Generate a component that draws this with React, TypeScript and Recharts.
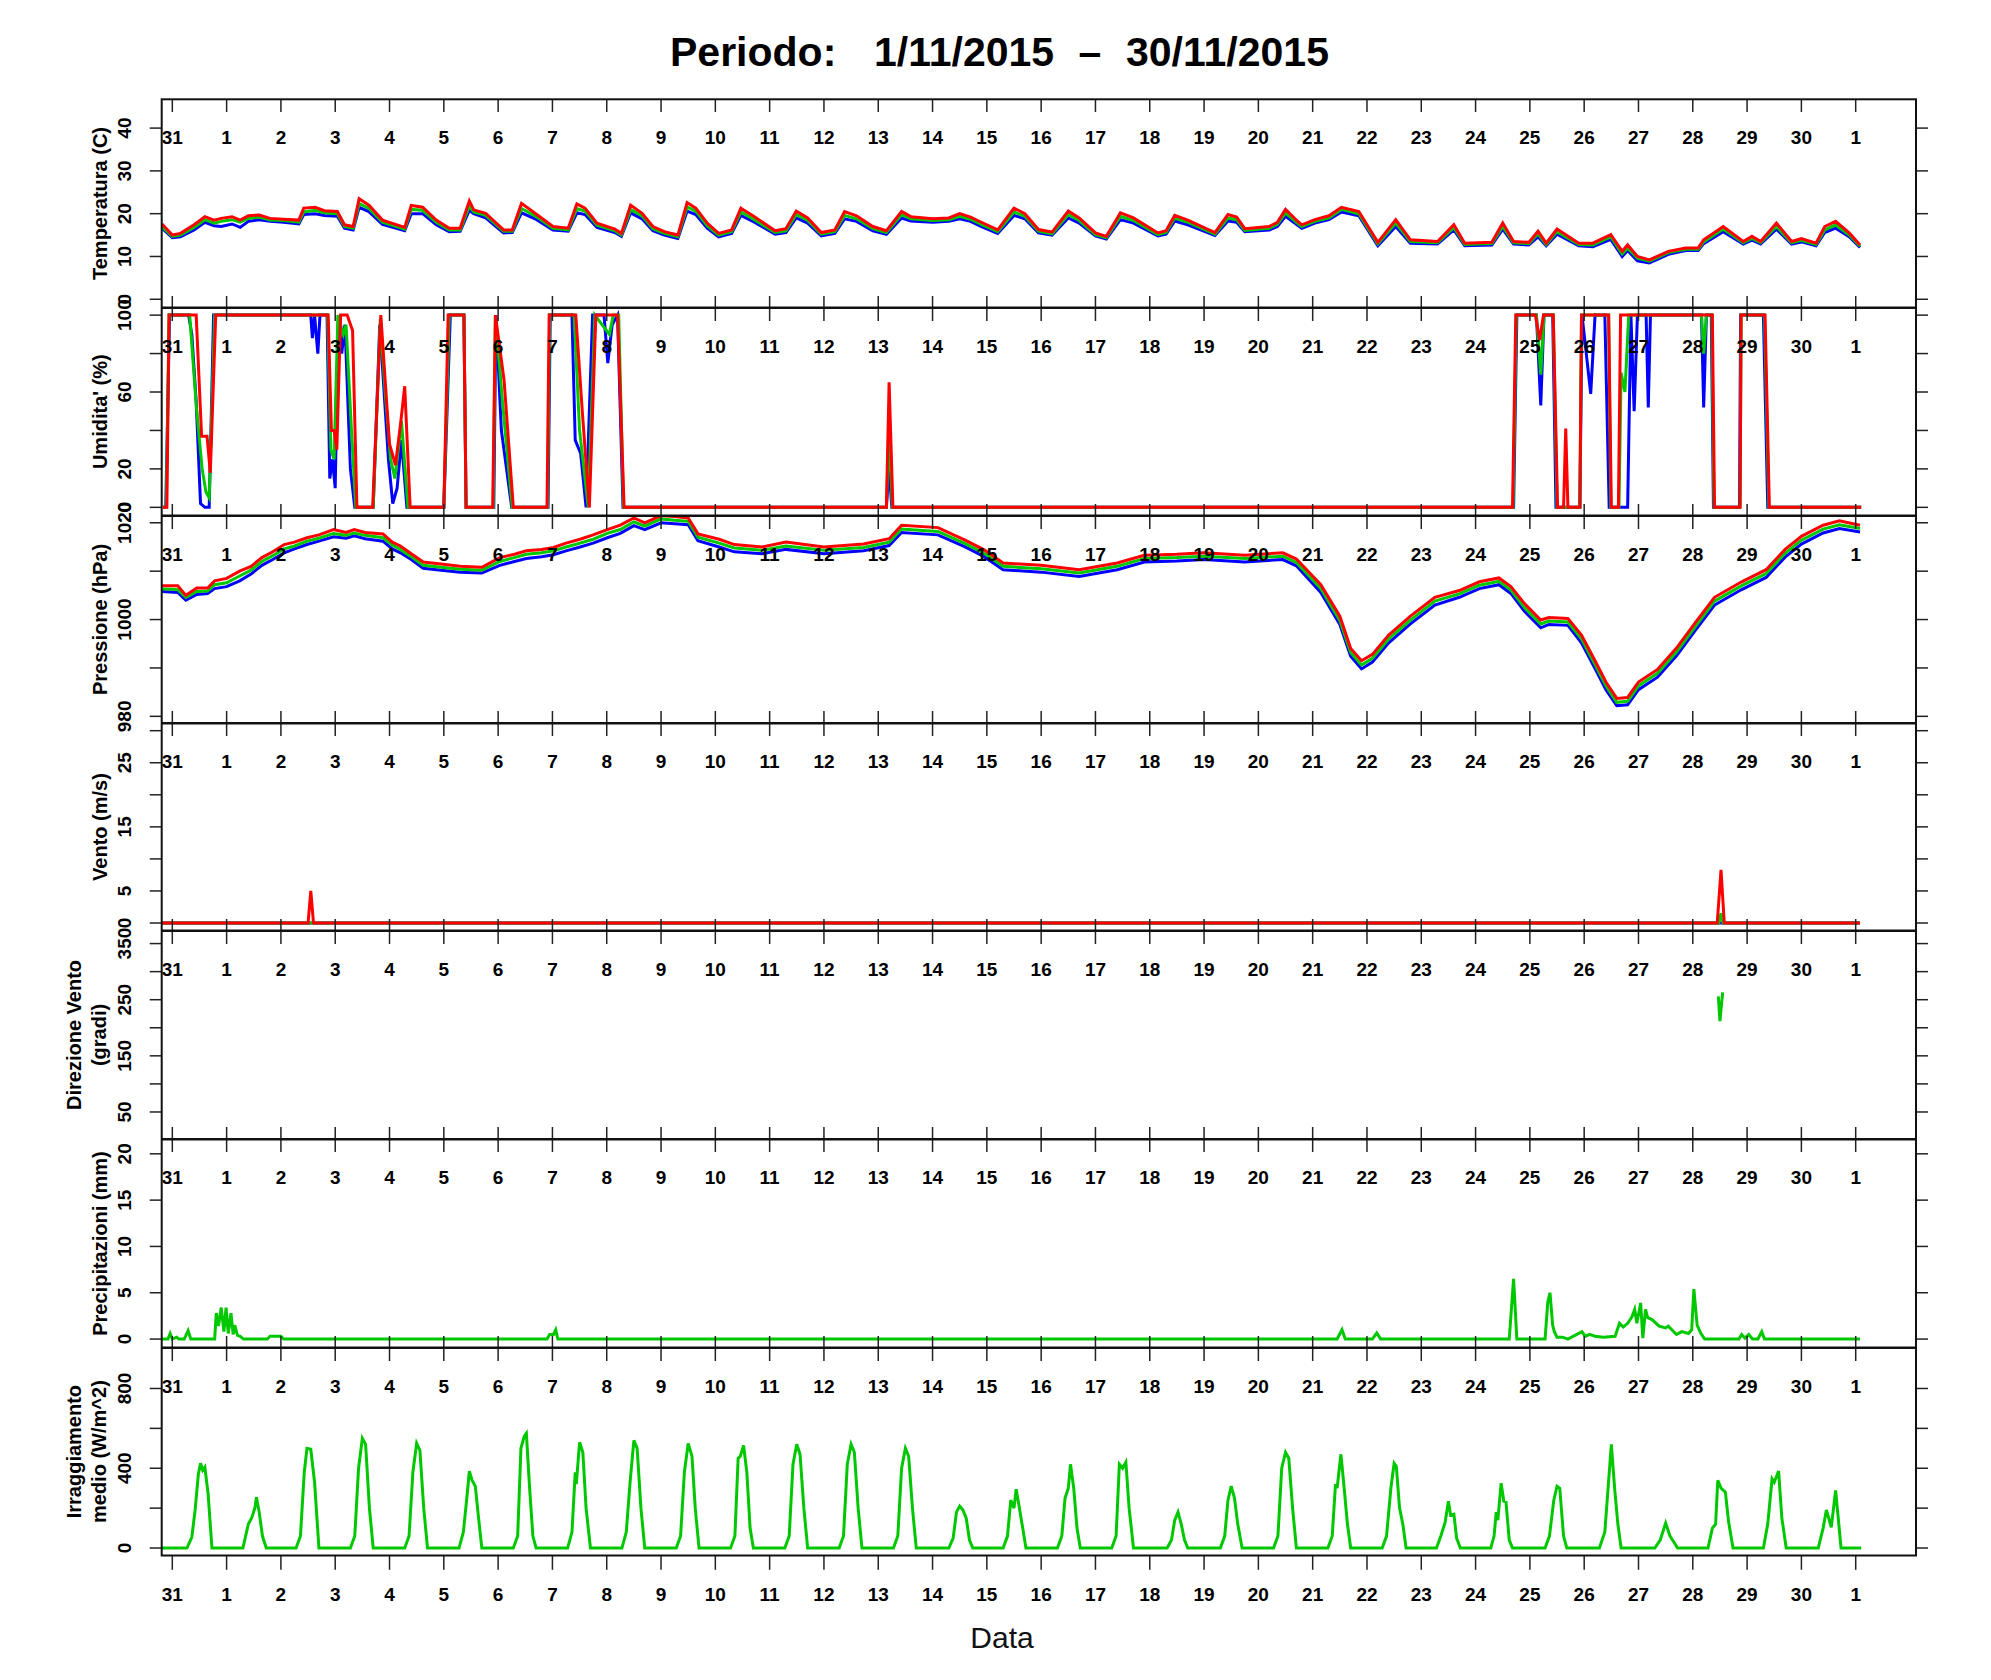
/**
 * Stazione meteo - Periodo 1/11/2015 - 30/11/2015, pannelli sovrapposti
 */

import { LineChart, Line, XAxis, YAxis } from 'recharts';

type Pt = [number, number];

// giorni (0 = 31 ottobre, 31 = 1 dicembre)
const dayTicks = [0, 1, 2, 3, 4, 5, 6, 7, 8, 9, 10, 11, 12, 13, 14, 15, 16, 17, 18, 19, 20, 21, 22, 23, 24, 25, 26, 27, 28, 29, 30, 31];
const dayLabels = ['31', '1', '2', '3', '4', '5', '6', '7', '8', '9', '10', '11', '12', '13', '14', '15', '16', '17', '18', '19', '20', '21', '22', '23', '24', '25', '26', '27', '28', '29', '30', '1'];

// Temperatura (C)
const tempTimes = [-0.19, 0.0, 0.15, 0.4, 0.6, 0.77, 0.9, 1.1, 1.25, 1.4, 1.6, 1.8, 2.05, 2.33, 2.42, 2.63, 2.8, 3.04, 3.17, 3.33, 3.44, 3.62, 3.87, 4.28, 4.4, 4.61, 4.86, 5.1, 5.3, 5.47, 5.55, 5.77, 6.1, 6.26, 6.43, 6.68, 7.01, 7.29, 7.45, 7.6, 7.82, 8.15, 8.27, 8.44, 8.65, 8.85, 9.06, 9.31, 9.48, 9.64, 9.85, 10.06, 10.3, 10.47, 10.72, 11.1, 11.3, 11.49, 11.7, 11.95, 12.2, 12.38, 12.6, 12.9, 13.15, 13.43, 13.6, 14.0, 14.3, 14.5, 14.7, 14.9, 15.2, 15.5, 15.7, 15.95, 16.2, 16.5, 16.7, 17.0, 17.2, 17.46, 17.7, 18.15, 18.3, 18.46, 18.7, 19.2, 19.44, 19.6, 19.75, 20.2, 20.35, 20.5, 20.7, 20.8, 21.04, 21.3, 21.53, 21.85, 22.2, 22.53, 22.8, 23.3, 23.6, 23.8, 24.3, 24.5, 24.7, 24.98, 25.15, 25.3, 25.5, 25.9, 26.16, 26.49, 26.7, 26.8, 26.98, 27.2, 27.55, 27.87, 28.1, 28.2, 28.56, 28.93, 29.09, 29.25, 29.54, 29.82, 30.0, 30.27, 30.43, 30.63, 30.88, 31.08];
const tempMax = [17.6, 15.0, 15.4, 17.4, 19.3, 18.5, 18.9, 19.3, 18.5, 19.5, 19.7, 18.9, 18.7, 18.5, 21.3, 21.5, 20.7, 20.5, 17.4, 17.0, 23.5, 22.0, 18.5, 16.8, 21.9, 21.5, 18.5, 16.6, 16.6, 23.0, 20.9, 20.1, 16.2, 16.2, 22.4, 20.1, 17.0, 16.6, 22.3, 21.3, 17.8, 16.4, 15.4, 22.0, 20.1, 17.0, 15.8, 15.0, 22.6, 21.3, 17.8, 15.4, 16.2, 21.3, 19.3, 16.0, 16.5, 20.6, 19.0, 15.6, 16.2, 20.5, 19.5, 17.0, 16.0, 20.5, 19.3, 18.8, 19.0, 20.0, 19.2, 18.0, 16.2, 21.3, 20.0, 16.3, 15.7, 20.6, 19.0, 15.5, 14.7, 20.2, 19.0, 15.5, 16.0, 19.6, 18.5, 15.6, 19.8, 19.2, 16.5, 17.0, 18.0, 21.0, 18.5, 17.4, 18.6, 19.5, 21.5, 20.5, 13.3, 18.6, 13.9, 13.5, 17.4, 13.1, 13.3, 17.8, 13.5, 13.3, 15.9, 13.1, 16.4, 13.1, 13.1, 15.1, 11.2, 12.7, 10.0, 9.2, 11.2, 12.0, 12.0, 13.9, 17.0, 13.5, 14.7, 13.5, 17.8, 13.5, 14.2, 13.1, 17.0, 18.2, 15.5, 12.7];
const tempMed = [17.0, 14.7, 15.0, 16.8, 18.6, 17.8, 18.2, 18.6, 18.0, 18.9, 19.2, 18.5, 18.4, 18.0, 20.4, 20.8, 20.2, 20.0, 17.0, 16.6, 22.4, 21.2, 18.0, 16.4, 21.0, 20.8, 18.0, 16.2, 16.2, 21.8, 20.4, 19.6, 15.9, 15.9, 21.2, 19.5, 16.6, 16.2, 21.2, 20.6, 17.3, 16.0, 15.0, 21.0, 19.5, 16.5, 15.4, 14.6, 21.6, 20.6, 17.2, 15.0, 15.8, 20.4, 18.6, 15.6, 16.0, 19.8, 18.4, 15.2, 15.8, 19.6, 18.8, 16.5, 15.6, 19.8, 18.8, 18.4, 18.6, 19.4, 18.7, 17.5, 15.8, 20.4, 19.4, 15.9, 15.3, 19.8, 18.4, 15.1, 14.4, 19.4, 18.4, 15.1, 15.6, 19.0, 18.0, 15.2, 19.0, 18.6, 16.1, 16.6, 17.5, 20.2, 18.0, 17.0, 18.2, 19.0, 21.0, 20.0, 12.9, 17.8, 13.5, 13.2, 16.8, 12.8, 13.0, 17.0, 13.2, 13.0, 15.3, 12.8, 15.8, 12.8, 12.7, 14.6, 10.6, 12.0, 9.6, 8.9, 10.9, 11.7, 11.7, 13.4, 16.4, 13.2, 14.2, 13.2, 17.0, 13.2, 13.8, 12.8, 16.2, 17.4, 15.0, 12.4];
const tempMin = [16.6, 14.4, 14.6, 16.2, 18.0, 17.2, 17.0, 17.6, 16.8, 18.2, 18.6, 18.2, 18.0, 17.6, 19.8, 20.0, 19.6, 19.4, 16.6, 16.2, 21.5, 20.5, 17.5, 16.0, 20.0, 20.0, 17.4, 15.8, 15.9, 20.8, 20.0, 19.0, 15.5, 15.6, 20.2, 18.8, 16.2, 15.9, 20.2, 19.8, 16.8, 15.6, 14.7, 20.2, 18.8, 16.0, 15.0, 14.2, 20.6, 19.8, 16.6, 14.6, 15.4, 19.6, 18.0, 15.2, 15.6, 19.0, 17.8, 14.8, 15.4, 18.8, 18.2, 16.0, 15.2, 19.0, 18.3, 18.0, 18.2, 18.8, 18.2, 17.0, 15.4, 19.6, 18.8, 15.5, 15.0, 19.0, 17.8, 14.8, 14.1, 18.6, 17.8, 14.8, 15.2, 18.3, 17.4, 14.9, 18.3, 18.0, 15.8, 16.2, 17.0, 19.4, 17.5, 16.6, 17.8, 18.6, 20.4, 19.5, 12.5, 17.0, 13.1, 12.9, 16.2, 12.5, 12.7, 16.4, 12.9, 12.7, 14.6, 12.5, 15.2, 12.5, 12.3, 14.0, 10.0, 11.4, 9.0, 8.5, 10.5, 11.4, 11.4, 13.0, 15.8, 12.9, 13.8, 12.9, 16.4, 12.9, 13.4, 12.5, 15.6, 16.6, 14.6, 12.1];

// Umidita' (%)
const humMax: Pt[] = [[-0.17, 0], [-0.1, 0], [-0.06, 100], [0.44, 100], [0.54, 37], [0.64, 37], [0.7, 18], [0.8, 100], [2.87, 100], [2.93, 40], [2.98, 40], [3.03, 30], [3.1, 100], [3.22, 100], [3.32, 92], [3.4, 0], [3.69, 0], [3.84, 100], [3.92, 66], [4.0, 33], [4.11, 22], [4.21, 45], [4.28, 63], [4.38, 0], [5.0, 0], [5.08, 100], [5.37, 100], [5.41, 0], [5.9, 0], [5.95, 100], [6.11, 66], [6.28, 0], [6.9, 0], [6.94, 100], [7.43, 100], [7.55, 50], [7.68, 0], [7.8, 100], [8.2, 100], [8.32, 0], [13.15, 0], [13.2, 65], [13.27, 0], [24.68, 0], [24.74, 100], [25.1, 100], [25.18, 87], [25.25, 100], [25.43, 100], [25.51, 0], [25.62, 0], [25.66, 41], [25.7, 0], [25.92, 0], [25.95, 100], [26.45, 100], [26.5, 0], [26.63, 0], [26.67, 100], [28.36, 100], [28.4, 0], [28.87, 0], [28.89, 100], [29.33, 100], [29.41, 0], [31.1, 0]];
const humMed: Pt[] = [[-0.17, 0], [-0.11, 0], [-0.06, 100], [0.32, 100], [0.45, 50], [0.55, 20], [0.62, 8], [0.68, 5], [0.78, 100], [2.86, 100], [2.92, 30], [2.98, 25], [3.05, 100], [3.15, 90], [3.2, 95], [3.3, 40], [3.38, 0], [3.7, 0], [3.83, 98], [3.92, 60], [4.02, 25], [4.1, 15], [4.22, 45], [4.34, 0], [5.0, 0], [5.1, 100], [5.37, 100], [5.41, 0], [5.91, 0], [5.95, 100], [6.08, 55], [6.26, 0], [6.91, 0], [6.95, 100], [7.4, 100], [7.5, 40], [7.66, 0], [7.78, 100], [8.05, 90], [8.12, 100], [8.22, 100], [8.31, 0], [13.15, 0], [13.2, 40], [13.26, 0], [24.69, 0], [24.75, 100], [25.12, 100], [25.2, 69], [25.26, 100], [25.43, 100], [25.5, 0], [25.92, 0], [25.95, 100], [26.45, 100], [26.49, 0], [26.64, 0], [26.68, 70], [26.75, 60], [26.82, 100], [28.16, 100], [28.2, 80], [28.25, 100], [28.35, 100], [28.39, 0], [28.87, 0], [28.89, 100], [29.32, 100], [29.4, 0], [31.1, 0]];
const humMin: Pt[] = [[-0.17, 0], [-0.12, 0], [-0.05, 100], [0.3, 100], [0.36, 90], [0.44, 55], [0.52, 2], [0.6, 0], [0.68, 0], [0.76, 100], [2.55, 100], [2.58, 88], [2.62, 100], [2.68, 80], [2.72, 100], [2.85, 100], [2.9, 15], [2.95, 25], [3.0, 10], [3.06, 100], [3.12, 80], [3.18, 95], [3.28, 20], [3.36, 0], [3.7, 0], [3.82, 95], [3.9, 60], [3.98, 25], [4.06, 2], [4.14, 10], [4.22, 35], [4.32, 0], [5.0, 0], [5.12, 100], [5.37, 100], [5.41, 0], [5.92, 0], [5.96, 100], [6.06, 40], [6.25, 0], [6.92, 0], [6.96, 100], [7.36, 100], [7.42, 35], [7.52, 28], [7.62, 0], [7.74, 100], [7.95, 100], [8.02, 75], [8.1, 95], [8.2, 100], [8.3, 0], [13.15, 0], [13.2, 20], [13.25, 0], [24.7, 0], [24.76, 100], [25.12, 100], [25.2, 53], [25.26, 100], [25.42, 100], [25.48, 0], [25.92, 0], [25.96, 100], [26.12, 59], [26.2, 100], [26.38, 100], [26.46, 0], [26.8, 0], [26.86, 100], [26.92, 50], [26.98, 100], [27.14, 100], [27.18, 52], [27.22, 100], [28.16, 100], [28.2, 52], [28.25, 100], [28.34, 100], [28.38, 0], [28.86, 0], [28.88, 100], [29.3, 100], [29.38, 0], [31.1, 0]];

// Pressione (hPa)
const pressTimes = [-0.19, 0.1, 0.25, 0.45, 0.65, 0.78, 1.0, 1.24, 1.45, 1.65, 1.85, 2.06, 2.25, 2.48, 2.7, 2.97, 3.2, 3.35, 3.55, 3.88, 4.05, 4.2, 4.4, 4.62, 4.95, 5.3, 5.7, 6.03, 6.3, 6.52, 6.8, 7.02, 7.25, 7.51, 7.75, 8.01, 8.25, 8.5, 8.7, 9.0, 9.25, 9.5, 9.68, 10.07, 10.35, 10.86, 11.3, 12.0, 12.73, 13.2, 13.43, 14.1, 14.6, 14.95, 15.3, 16.0, 16.7, 17.4, 17.9, 18.5, 19.0, 19.75, 20.45, 20.7, 21.15, 21.5, 21.7, 21.9, 22.1, 22.4, 22.8, 23.25, 23.7, 24.07, 24.43, 24.65, 24.9, 25.2, 25.35, 25.7, 25.95, 26.2, 26.4, 26.6, 26.8, 27.0, 27.35, 27.7, 28.05, 28.4, 28.9, 29.35, 29.7, 30.0, 30.4, 30.7, 31.08];
const pressMax = [1007.0, 1007.0, 1005.0, 1006.5, 1006.5, 1008.0, 1008.5, 1010.0, 1011.0, 1012.8, 1014.0, 1015.5, 1016.0, 1016.9, 1017.5, 1018.6, 1018.0, 1018.6, 1018.0, 1017.7, 1016.0, 1015.2, 1013.6, 1011.9, 1011.5, 1011.0, 1010.8, 1012.8, 1013.5, 1014.2, 1014.5, 1014.9, 1015.8, 1016.6, 1017.5, 1018.6, 1019.5, 1021.0, 1020.0, 1021.5, 1021.3, 1021.0, 1017.7, 1016.6, 1015.5, 1015.0, 1016.0, 1015.0, 1015.6, 1016.7, 1019.5, 1019.0, 1016.4, 1014.4, 1011.7, 1011.2, 1010.3, 1011.7, 1013.3, 1013.5, 1013.8, 1013.3, 1013.8, 1012.5, 1007.2, 1000.7, 994.0, 991.5, 992.8, 996.8, 1000.7, 1004.6, 1006.0, 1007.8, 1008.6, 1006.8, 1003.3, 999.9, 1000.4, 1000.2, 996.8, 991.5, 987.1, 983.7, 983.9, 987.1, 989.7, 994.1, 999.4, 1004.6, 1007.8, 1010.3, 1014.5, 1017.2, 1019.5, 1020.4, 1019.5];
const pressMed = [1006.3, 1006.2, 1004.6, 1005.8, 1005.9, 1007.2, 1007.6, 1009.0, 1010.2, 1012.0, 1013.2, 1014.6, 1015.2, 1016.2, 1016.8, 1017.8, 1017.4, 1017.9, 1017.4, 1016.9, 1015.4, 1014.5, 1013.0, 1011.2, 1010.8, 1010.4, 1010.2, 1012.0, 1012.8, 1013.5, 1013.8, 1014.2, 1015.0, 1015.8, 1016.6, 1017.8, 1018.6, 1020.2, 1019.3, 1020.8, 1020.5, 1020.3, 1017.0, 1015.8, 1014.8, 1014.3, 1015.2, 1014.3, 1014.9, 1016.0, 1018.7, 1018.2, 1015.7, 1013.7, 1011.0, 1010.5, 1009.6, 1011.0, 1012.6, 1012.8, 1013.1, 1012.6, 1013.1, 1011.8, 1006.4, 999.8, 993.2, 990.6, 992.0, 996.0, 999.9, 1003.8, 1005.3, 1007.1, 1007.9, 1006.1, 1002.5, 999.1, 999.7, 999.5, 996.0, 990.7, 986.3, 982.9, 983.1, 986.3, 988.9, 993.3, 998.6, 1003.8, 1007.0, 1009.5, 1013.7, 1016.4, 1018.7, 1019.6, 1018.8];
const pressMin = [1005.8, 1005.6, 1004.0, 1005.2, 1005.4, 1006.4, 1006.8, 1008.0, 1009.4, 1011.2, 1012.4, 1013.8, 1014.6, 1015.5, 1016.2, 1017.1, 1016.8, 1017.3, 1016.7, 1016.2, 1014.6, 1013.8, 1012.4, 1010.6, 1010.2, 1009.8, 1009.6, 1011.2, 1012.0, 1012.6, 1013.0, 1013.4, 1014.2, 1015.0, 1015.8, 1016.9, 1017.8, 1019.4, 1018.6, 1020.0, 1019.8, 1019.6, 1016.3, 1015.0, 1014.0, 1013.6, 1014.5, 1013.6, 1014.2, 1015.3, 1018.0, 1017.5, 1015.0, 1013.0, 1010.3, 1009.8, 1008.9, 1010.3, 1011.9, 1012.1, 1012.4, 1011.9, 1012.4, 1011.1, 1005.6, 999.0, 992.4, 989.8, 991.2, 995.2, 999.1, 1003.0, 1004.6, 1006.4, 1007.2, 1005.4, 1001.7, 998.3, 999.0, 998.8, 995.2, 989.9, 985.5, 982.2, 982.4, 985.5, 988.1, 992.5, 997.8, 1003.0, 1006.2, 1008.7, 1012.9, 1015.6, 1017.9, 1018.8, 1018.1];

// Vento (m/s)
const windMax: Pt[] = [[-0.19, 0], [2.5, 0], [2.55, 5], [2.6, 0], [28.45, 0], [28.52, 8.3], [28.58, 0], [31.08, 0]];
const windMed: Pt[] = [[-0.19, 0], [28.48, 0], [28.52, 1.5], [28.56, 0], [31.08, 0]];
const windMin: Pt[] = [[-0.19, 0], [31.08, 0]];

// Direzione Vento (gradi)
const windDir: Pt[] = [[28.47, 256], [28.5, 212], [28.55, 263]];

// Precipitazioni (mm)
const rain: Pt[] = [[-0.19, 0], [-0.08, 0], [-0.04, 0.6], [0.0, 0], [0.08, 0.2], [0.12, 0], [0.22, 0], [0.29, 0.9], [0.34, 0], [0.78, 0], [0.81, 2.8], [0.85, 1.4], [0.9, 3.4], [0.95, 0.8], [0.99, 3.4], [1.03, 0.6], [1.08, 2.8], [1.12, 0.5], [1.15, 1.5], [1.2, 0.4], [1.25, 0.3], [1.31, 0], [1.75, 0], [1.8, 0.3], [2.0, 0.3], [2.05, 0], [6.9, 0], [6.95, 0.5], [7.02, 0.5], [7.06, 1.0], [7.1, 0], [21.45, 0], [21.54, 1.0], [21.6, 0], [22.1, 0], [22.18, 0.65], [22.25, 0], [24.62, 0], [24.7, 6.5], [24.76, 0], [25.28, 0], [25.33, 4.0], [25.37, 5.0], [25.42, 1.5], [25.45, 0.8], [25.5, 0.2], [25.6, 0.2], [25.7, 0], [25.96, 0.8], [26.02, 0.3], [26.1, 0.5], [26.2, 0.3], [26.35, 0.2], [26.57, 0.3], [26.65, 1.7], [26.72, 1.3], [26.8, 1.7], [26.88, 2.4], [26.93, 3.2], [26.97, 1.7], [27.04, 3.9], [27.08, 0.1], [27.13, 3.2], [27.17, 2.3], [27.25, 2.1], [27.38, 1.4], [27.5, 1.2], [27.55, 1.4], [27.7, 0.5], [27.8, 0.8], [27.92, 0.6], [27.98, 1.0], [28.02, 5.4], [28.08, 1.5], [28.15, 0.6], [28.22, 0], [28.85, 0], [28.9, 0.5], [28.96, 0.1], [29.03, 0.5], [29.1, 0], [29.2, 0], [29.27, 0.8], [29.32, 0], [31.08, 0]];

// Irraggiamento medio (W/m^2)
const radiation: Pt[] = [
  [-0.19, 0], [0.27, 0], [0.36, 55], [0.42, 190], [0.48, 370], [0.52, 425], [0.56, 390], [0.6, 405], [0.66, 270], [0.73, 0],
  [1.3, 0], [1.4, 120], [1.46, 150], [1.52, 200], [1.55, 255], [1.6, 180], [1.66, 60], [1.73, 0],
  [2.28, 0], [2.36, 60], [2.43, 380], [2.48, 500], [2.55, 495], [2.62, 330], [2.7, 0],
  [3.28, 0], [3.36, 60], [3.43, 400], [3.5, 550], [3.56, 520], [3.63, 200], [3.7, 0],
  [4.28, 0], [4.36, 60], [4.43, 380], [4.5, 525], [4.56, 490], [4.63, 200], [4.7, 0],
  [5.28, 0], [5.36, 80], [5.42, 240], [5.47, 385], [5.52, 340], [5.58, 310], [5.64, 150], [5.7, 0],
  [6.28, 0], [6.36, 60], [6.42, 500], [6.48, 560], [6.52, 575], [6.58, 300], [6.64, 60], [6.7, 0],
  [7.28, 0], [7.36, 80], [7.42, 380], [7.44, 320], [7.5, 530], [7.56, 480], [7.62, 200], [7.7, 0],
  [8.28, 0], [8.36, 80], [8.43, 330], [8.5, 540], [8.56, 500], [8.63, 200], [8.7, 0],
  [9.28, 0], [9.36, 60], [9.43, 380], [9.5, 525], [9.57, 460], [9.63, 200], [9.7, 0],
  [10.28, 0], [10.36, 60], [10.42, 450], [10.46, 460], [10.52, 515], [10.58, 380], [10.64, 100], [10.7, 0],
  [11.28, 0], [11.36, 60], [11.43, 420], [11.5, 520], [11.56, 470], [11.63, 200], [11.7, 0],
  [12.28, 0], [12.36, 60], [12.43, 420], [12.5, 520], [12.56, 480], [12.63, 200], [12.7, 0],
  [13.28, 0], [13.36, 60], [13.43, 400], [13.5, 500], [13.56, 460], [13.63, 200], [13.7, 0],
  [14.3, 0], [14.38, 50], [14.44, 180], [14.5, 210], [14.56, 190], [14.62, 150], [14.68, 40], [14.74, 0],
  [15.3, 0], [15.38, 60], [15.44, 240], [15.5, 200], [15.54, 295], [15.6, 200], [15.66, 100], [15.72, 0],
  [16.3, 0], [16.38, 60], [16.44, 250], [16.5, 300], [16.54, 420], [16.6, 300], [16.66, 100], [16.72, 0],
  [17.3, 0], [17.38, 60], [17.44, 420], [17.5, 400], [17.56, 430], [17.62, 200], [17.7, 0],
  [18.32, 0], [18.4, 40], [18.46, 140], [18.52, 180], [18.58, 120], [18.64, 40], [18.7, 0],
  [19.3, 0], [19.38, 60], [19.44, 240], [19.5, 310], [19.56, 250], [19.62, 120], [19.7, 0],
  [20.28, 0], [20.36, 60], [20.43, 400], [20.5, 480], [20.56, 450], [20.63, 200], [20.7, 0],
  [21.28, 0], [21.36, 60], [21.42, 320], [21.45, 300], [21.52, 470], [21.58, 300], [21.64, 120], [21.7, 0],
  [22.28, 0], [22.36, 60], [22.44, 300], [22.5, 425], [22.54, 410], [22.6, 200], [22.66, 120], [22.72, 0],
  [23.28, 0], [23.36, 60], [23.44, 130], [23.5, 235], [23.54, 165], [23.6, 170], [23.65, 50], [23.72, 0],
  [24.28, 0], [24.34, 60], [24.38, 180], [24.41, 140], [24.47, 325], [24.52, 235], [24.56, 230], [24.62, 40], [24.68, 0],
  [25.28, 0], [25.36, 60], [25.44, 240], [25.5, 310], [25.55, 300], [25.62, 60], [25.68, 0],
  [26.28, 0], [26.38, 80], [26.44, 300], [26.5, 520], [26.56, 300], [26.62, 120], [26.68, 0],
  [27.3, 0], [27.4, 40], [27.5, 125], [27.58, 60], [27.65, 30], [27.72, 0],
  [28.28, 0], [28.36, 100], [28.42, 120], [28.46, 339], [28.52, 300], [28.6, 280], [28.66, 130], [28.74, 0],
  [29.3, 0], [29.38, 120], [29.46, 347], [29.5, 330], [29.58, 386], [29.64, 150], [29.72, 0],
  [30.31, 0], [30.4, 100], [30.46, 191], [30.55, 104], [30.63, 289], [30.73, 0], [31.1, 0],
];

// tick asse y (tutti) e quelli con etichetta
const tempTicks = [0, 10, 20, 30, 40];
const humTicks = [0, 20, 40, 60, 80, 100];
const humLabels = [0, 20, 60, 100];
const pressTicks = [980, 990, 1000, 1010, 1020];
const pressLabels = [980, 1000, 1020];
const windTicks = [0, 5, 10, 15, 20, 25, 30];
const windLabels = [0, 5, 15, 25];
const dirTicks = [50, 100, 150, 200, 250, 300, 350];
const dirLabels = [50, 150, 250, 350];
const rainTicks = [0, 5, 10, 15, 20];
const radTicks = [0, 200, 400, 600, 800];
const radLabels = [0, 400, 800];

const BLUE = '#0000ff';
const GREEN = '#00c800';
const RED = '#ff0000';
const FONT = '"Liberation Sans", Arial, Helvetica, sans-serif';

const W = 1991;
const LEFT = 161.7;
const RIGHT = 1916;
const PAD = 20;
const X_DOMAIN: [number, number] = [-0.195, 32.11];

const zipRows = (times: number[], cols: Record<string, number[]>) =>
  times.map((t, i) => {
    const row: Record<string, number> = { t };
    Object.entries(cols).forEach(([k, vals]) => (row[k] = vals[i]));
    return row;
  });

const mergeRows = (series: Record<string, Pt[]>) => {
  const map = new Map<number, Record<string, number>>();
  Object.entries(series).forEach(([k, pts]) =>
    pts.forEach(([t, v]) => {
      const row = map.get(t) ?? { t };
      row[k] = v;
      map.set(t, row);
    })
  );
  return [...map.values()].sort((a, b) => a.t - b.t);
};

const three = [
  { key: 'min', color: BLUE },
  { key: 'med', color: GREEN },
  { key: 'max', color: RED },
];

const panels = [
  { top: 99.3, h: 208.4, domain: [-1.9, 46.8], ticks: tempTicks, labels: tempTicks, title: ['Temperatura (C)'],
    rows: zipRows(tempTimes, { max: tempMax, med: tempMed, min: tempMin }), series: three },
  { top: 307.7, h: 208.0, domain: [-4.5, 103.7], ticks: humTicks, labels: humLabels, title: ["Umidita' (%)"],
    rows: mergeRows({ max: humMax, med: humMed, min: humMin }), series: three },
  { top: 515.7, h: 207.6, domain: [978.5, 1021.4], ticks: pressTicks, labels: pressLabels, title: ['Pressione (hPa)'],
    rows: zipRows(pressTimes, { max: pressMax, med: pressMed, min: pressMin }), series: three },
  { top: 723.3, h: 207.4, domain: [-1.15, 31.2], ticks: windTicks, labels: windLabels, title: ['Vento (m/s)'],
    rows: mergeRows({ max: windMax, med: windMed, min: windMin }), series: three },
  { top: 930.7, h: 208.6, domain: [0.8, 372.4], ticks: dirTicks, labels: dirLabels, title: ['Direzione Vento', '(gradi)'],
    rows: mergeRows({ dir: windDir }), series: [{ key: 'dir', color: GREEN }] },
  { top: 1139.3, h: 208.4, domain: [-0.9, 21.6], ticks: rainTicks, labels: rainTicks, title: ['Precipitazioni (mm)'],
    rows: mergeRows({ rain }), series: [{ key: 'rain', color: GREEN }] },
  { top: 1347.7, h: 207.8, domain: [-39, 1003], ticks: radTicks, labels: radLabels, title: ['Irraggiamento', 'medio (W/m^2)'],
    rows: mergeRows({ rad: radiation }), series: [{ key: 'rad', color: GREEN }] },
];

const XTick = (props: any) => {
  const { x, payload, first, last, plotH } = props;
  const label = dayLabels[payload.value];
  return (
    <g>
      <line x1={x} x2={x} y1={first ? PAD : PAD - 12} y2={PAD + 13} stroke="#222" strokeWidth={1.5} />
      <text x={x} y={PAD + 45} textAnchor="middle" fontSize={19} fontWeight="bold" fontFamily={FONT} fill="#000">
        {label}
      </text>
      {last && (
        <>
          <line x1={x} x2={x} y1={PAD + plotH} y2={PAD + plotH + 14} stroke="#222" strokeWidth={1.5} />
          <text x={x} y={PAD + plotH + 45} textAnchor="middle" fontSize={19} fontWeight="bold" fontFamily={FONT} fill="#000">
            {label}
          </text>
        </>
      )}
    </g>
  );
};

const YTick = (props: any) => {
  const { y, payload, labels } = props;
  const show = labels.includes(payload.value);
  return (
    <g>
      <line x1={LEFT - 12} x2={LEFT} y1={y} y2={y} stroke="#222" strokeWidth={1.5} />
      <line x1={RIGHT} x2={RIGHT + 12} y1={y} y2={y} stroke="#222" strokeWidth={1.5} />
      {show && (
        <text x={131} y={y} transform={`rotate(-90 131 ${y})`} textAnchor="middle" fontSize={19} fontWeight="bold" fontFamily={FONT} fill="#000">
          {payload.value}
        </text>
      )}
    </g>
  );
};

const Panel = ({ p, index }: { p: (typeof panels)[number]; index: number }) => {
  const last = index === panels.length - 1;
  const bottom = last ? 70 : PAD;
  return (
    <div style={{ position: 'absolute', left: 0, top: p.top - PAD }}>
      <LineChart width={W} height={p.h + PAD + bottom} data={p.rows} margin={{ top: 0, right: W - RIGHT, bottom, left: LEFT - 60 }}>
        <XAxis
          dataKey="t"
          type="number"
          orientation="top"
          height={PAD}
          domain={X_DOMAIN}
          allowDataOverflow
          ticks={dayTicks}
          interval={0}
          axisLine={false}
          tickLine={false}
          tick={(tp: any) => <XTick {...tp} first={index === 0} last={last} plotH={p.h} />}
        />
        <YAxis
          type="number"
          width={60}
          domain={p.domain}
          allowDataOverflow
          ticks={p.ticks}
          interval={0}
          axisLine={false}
          tickLine={false}
          tick={(tp: any) => <YTick {...tp} labels={p.labels} />}
        />
        {p.series.map((s) => (
          <Line
            key={s.key}
            dataKey={s.key}
            type="linear"
            stroke={s.color}
            strokeWidth={3}
            dot={false}
            connectNulls
            isAnimationActive={false}
          />
        ))}
      </LineChart>
    </div>
  );
};

const App = () => {
  const bottomEdge = panels[panels.length - 1].top + panels[panels.length - 1].h;
  return (
    <div style={{ position: 'absolute', left: 0, top: 0, width: W, height: 1680, background: '#fff', fontFamily: FONT }}>
      {panels.map((p, i) => (
        <Panel key={i} p={p} index={i} />
      ))}

      {/* cornice, separatori e testi */}
      <svg width={W} height={1680} style={{ position: 'absolute', left: 0, top: 0, pointerEvents: 'none' }}>
        <rect x={LEFT} y={panels[0].top} width={RIGHT - LEFT} height={bottomEdge - panels[0].top} fill="none" stroke="#111" strokeWidth={2} />
        {panels.slice(1).map((p, i) => (
          <line key={i} x1={LEFT} x2={RIGHT} y1={p.top} y2={p.top} stroke="#111" strokeWidth={2.5} />
        ))}

        <g fontFamily={FONT} fontWeight="bold" fontSize={41} fill="#000">
          <text x={670} y={66}>Periodo:</text>
          <text x={874} y={66}>1/11/2015</text>
          <text x={1090} y={66} textAnchor="middle">–</text>
          <text x={1126} y={66}>30/11/2015</text>
        </g>

        {panels.map((p, i) => {
          const cy = p.top + p.h / 2;
          const xs = p.title.length === 1 ? [107] : [81, 106];
          return p.title.map((t, j) => (
            <text
              key={`${i}-${j}`}
              x={xs[j]}
              y={cy}
              transform={`rotate(-90 ${xs[j]} ${cy})`}
              textAnchor="middle"
              fontSize={20}
              fontWeight="bold"
              fontFamily={FONT}
              fill="#000"
            >
              {t}
            </text>
          ));
        })}

        <text x={1002} y={1648} textAnchor="middle" fontSize={30} fontFamily={FONT} fill="#111">
          Data
        </text>
      </svg>
    </div>
  );
};

export default App;
